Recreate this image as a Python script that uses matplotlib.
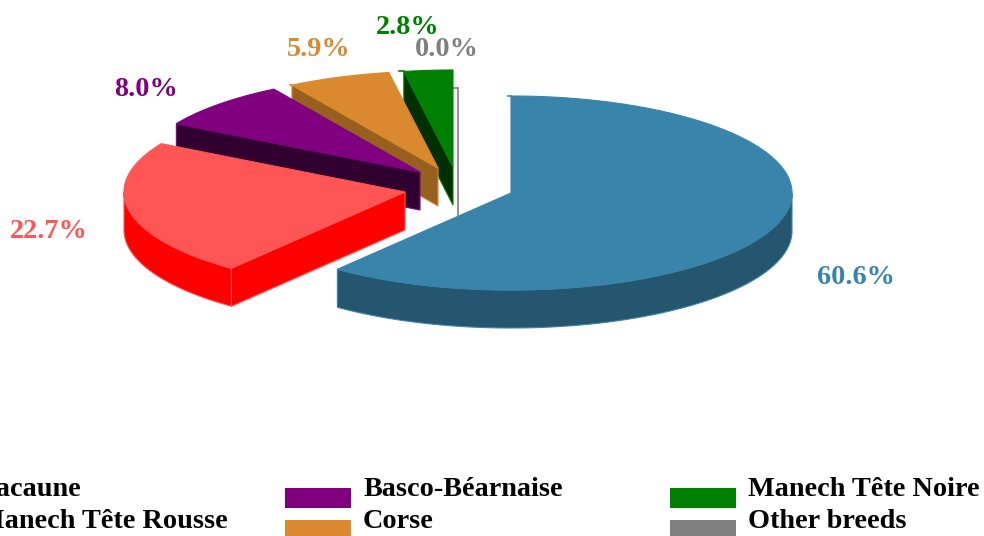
import matplotlib
matplotlib.use("Agg")
import matplotlib.pyplot as plt
from matplotlib.patches import Polygon, Rectangle
import numpy as np

plt.rcParams["font.family"] = ["Liberation Serif", "DejaVu Serif"]

# data
breeds = ["Lacaune", "Manech Tête Rousse", "Basco-Béarnaise", "Corse",
          "Manech Tête Noire", "Other breeds"]
shares = [60.6, 22.7, 8.0, 5.9, 2.8, 0.0]

top_colors = ["#3984AB", "#FF5555", "#800080", "#DA892E", "#008000", "#808080"]
side_colors = ["#24566F", "#FF0000", "#300030", "#98601F", "#003000", "#808080"]

# pie centre of every exploded slice, in pixels
centers_x = [511, 405, 420, 438, 453, 458]
centers_y = [193, 192, 172, 168, 167, 185]
label_x = [856, 49, 146, 319, 408, 447]
label_y = [278, 231, 89, 49, 27, 50]
start_ticks = [3, 0, 0, 2, 5, 6]

RX, RY, DEPTH = 281, 97, 38

fig = plt.figure(figsize=(9.84, 5.36), dpi=100)
ax = fig.add_axes([0, 0, 1, 1])
ax.set_xlim(0, 984)
ax.set_ylim(536, 0)
ax.axis("off")


def arc_points(cx, cy, a0, a1):
    t = np.radians(np.linspace(a0, a1, max(int(a1 - a0) * 2, 2)))
    return np.column_stack([cx + RX * np.sin(t), cy - RY * np.cos(t)])


# slices start at 12 o'clock and go clockwise
ends = np.cumsum(shares) / sum(shares) * 360
starts = np.concatenate([[0], ends[:-1]])

# back slices first, Lacaune lies on top
for i in range(len(shares) - 1, -1, -1):
    cx, cy = centers_x[i], centers_y[i]
    z = len(shares) - i
    c_top, c_side = top_colors[i], side_colors[i]
    arc = arc_points(cx, cy, starts[i], ends[i])
    apex = np.array([cx, cy])
    down = np.array([0, DEPTH])

    if shares[i] == 0:
        # empty slice is only a thin line
        ax.plot([arc[0, 0], cx], [arc[0, 1], cy + DEPTH], color=c_top, lw=1.2, zorder=z)
    else:
        # radial wall shows only when it faces the viewer
        if starts[i] >= 180:
            wall = np.vstack([apex, arc[0], arc[0] + down, apex + down])
            ax.add_patch(Polygon(wall, closed=True, fc=c_side, ec=c_top, lw=0.8, zorder=z))
        elif ends[i] <= 180:
            wall = np.vstack([apex, arc[-1], arc[-1] + down, apex + down])
            ax.add_patch(Polygon(wall, closed=True, fc=c_side, ec=c_top, lw=0.8, zorder=z))
        # outer wall, front half of the ellipse only
        a0, a1 = max(starts[i], 90), min(ends[i], 270)
        if a1 > a0:
            front = arc_points(cx, cy, a0, a1)
            band = np.vstack([front, (front + down)[::-1]])
            ax.add_patch(Polygon(band, closed=True, fc=c_side, ec=c_top, lw=0.8, zorder=z))
        ax.add_patch(Polygon(np.vstack([apex, arc]), closed=True, fc=c_top, ec=c_top,
                             lw=0.8, zorder=z + 0.5))
    if start_ticks[i]:
        ax.plot([arc[0, 0] - start_ticks[i], arc[0, 0]], [arc[0, 1], arc[0, 1]],
                color=c_top, lw=1.2, zorder=z + 0.5)

for v, x, y, c in zip(shares, label_x, label_y, top_colors):
    ax.text(x, y, f"{v:.1f}%", color=c, fontsize=20.35, fontweight="bold",
            ha="center", va="center", zorder=20)

# legend, two rows and three columns, runs off the left edge
col_text = [-22, 363, 748]
row_base = [496, 528]
for i, name in enumerate(breeds):
    col, row = i // 2, i % 2
    tx = col_text[col]
    ax.add_patch(Rectangle((tx - 78, row_base[row] - 8), 66, 20, fc=top_colors[i], ec="none",
                           zorder=20, clip_on=True))
    ax.text(tx, row_base[row], name, color="black", fontsize=20.35, fontweight="bold",
            ha="left", va="baseline", zorder=20, clip_on=True)

fig.savefig("out.png", dpi=100, facecolor="white")
